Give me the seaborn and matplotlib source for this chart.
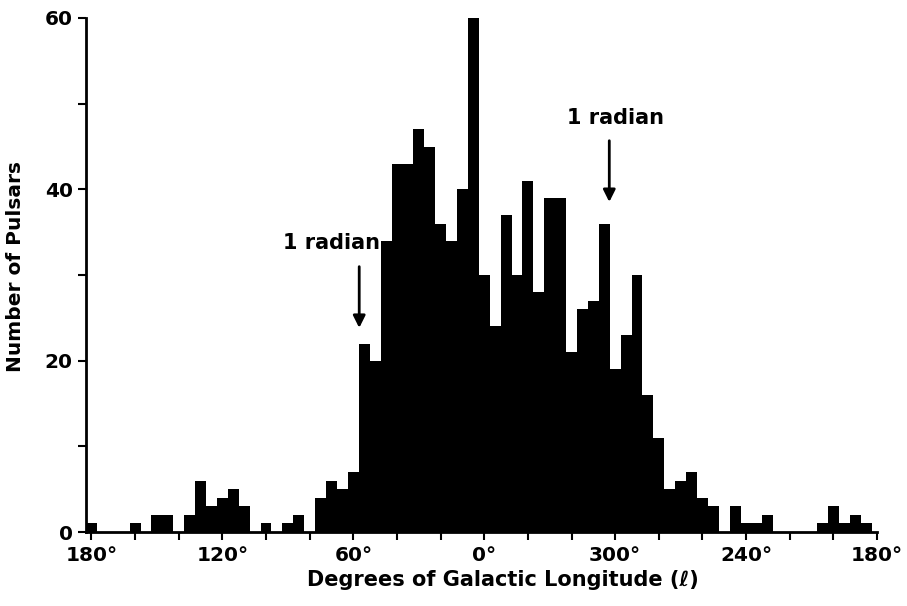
import numpy as np
import pandas as pd
import matplotlib
matplotlib.use('Agg')
import matplotlib.pyplot as plt
import seaborn as sns


# Pulsar counts in 5 degree bins, going from l = 180 down to l = -175
bin_centers = [180, 175, 170, 165, 160, 155, 150, 145, 140, 135,
               130, 125, 120, 115, 110, 105, 100, 95, 90, 85,
               80, 75, 70, 65, 60, 55, 50, 45, 40, 35,
               30, 25, 20, 15, 10, 5, 0, -5, -10, -15,
               -20, -25, -30, -35, -40, -45, -50, -55, -60, -65,
               -70, -75, -80, -85, -90, -95, -100, -105, -110, -115,
               -120, -125, -130, -135, -140, -145, -150, -155, -160, -165,
               -170, -175]
counts = [1, 0, 0, 0, 1, 0, 2, 2, 0, 2,
          6, 3, 4, 5, 3, 0, 1, 0, 1, 2,
          0, 4, 6, 5, 7, 22, 20, 34, 43, 43,
          47, 45, 36, 34, 40, 60, 30, 24, 37, 30,
          41, 28, 39, 39, 21, 26, 27, 36, 19, 23,
          30, 16, 11, 5, 6, 7, 4, 3, 0, 3,
          1, 1, 2, 0, 0, 0, 0, 1, 3, 1,
          2, 1]
bin_width = 5

tick_pos = [180, 120, 60, 0, -60, -120, -180]
tick_labels = ['180°', '120°', '60°', '0°', '300°', '240°', '180°']
radian = np.degrees(1.0)

df = pd.DataFrame({'l': bin_centers, 'n': counts})
edges = sorted([c - bin_width / 2 for c in bin_centers] + [max(bin_centers) + bin_width / 2])


sns.set_style('ticks')
plt.rcParams['font.family'] = ['DejaVu Sans']
plt.rcParams['font.weight'] = 'bold'
plt.rcParams['text.color'] = 'black'
plt.rcParams['axes.labelcolor'] = 'black'
plt.rcParams['xtick.color'] = 'black'
plt.rcParams['ytick.color'] = 'black'

fig = plt.figure(figsize=(9.07, 6.06), dpi=100)
ax = fig.add_axes([0.0948, 0.1221, 0.8722, 0.8482])

sns.histplot(x=df['l'].to_numpy(), weights=df['n'].to_numpy(), bins=edges, color='black',
             alpha=1, linewidth=0, ax=ax)

ax.set_xlim(182.5, -180)
ax.set_ylim(0, 60)

ax.set_xticks(tick_pos)
ax.set_xticklabels(tick_labels)
ax.set_xticks(np.arange(-180, 181, 20), minor=True)
ax.set_yticks([0, 20, 40, 60])
ax.set_yticks([10, 30, 50], minor=True)
ax.tick_params(axis='both', which='both', direction='out', length=6, width=1.5,
               color='black', labelsize=14.5)
ax.tick_params(axis='x', pad=4)

for side in ['top', 'right']:
    ax.spines[side].set_visible(False)
for side in ['left', 'bottom']:
    ax.spines[side].set_linewidth(2)
    ax.spines[side].set_color('black')

ax.set_xlabel('Degrees of Galactic Longitude (ℓ)', fontsize=15, fontweight='bold', labelpad=4)
ax.set_ylabel('Number of Pulsars', fontsize=14.5, fontweight='bold', labelpad=14)
ax.xaxis.label.set_x(0.527)
ax.yaxis.label.set_y(0.516)

# 1 radian markers either side of the centre
ax.annotate('', xy=(radian, 23.5), xytext=(radian, 31.3),
            arrowprops=dict(arrowstyle='-|>', color='black', lw=2, mutation_scale=18))
ax.text(70, 33.7, '1 radian', ha='center', va='center', fontsize=15, fontweight='bold')

ax.annotate('', xy=(-radian, 38.2), xytext=(-radian, 46),
            arrowprops=dict(arrowstyle='-|>', color='black', lw=2, mutation_scale=18))
ax.text(-radian - 3, 48.3, '1 radian', ha='center', va='center', fontsize=15, fontweight='bold')

fig.savefig('out.png', dpi=100)
